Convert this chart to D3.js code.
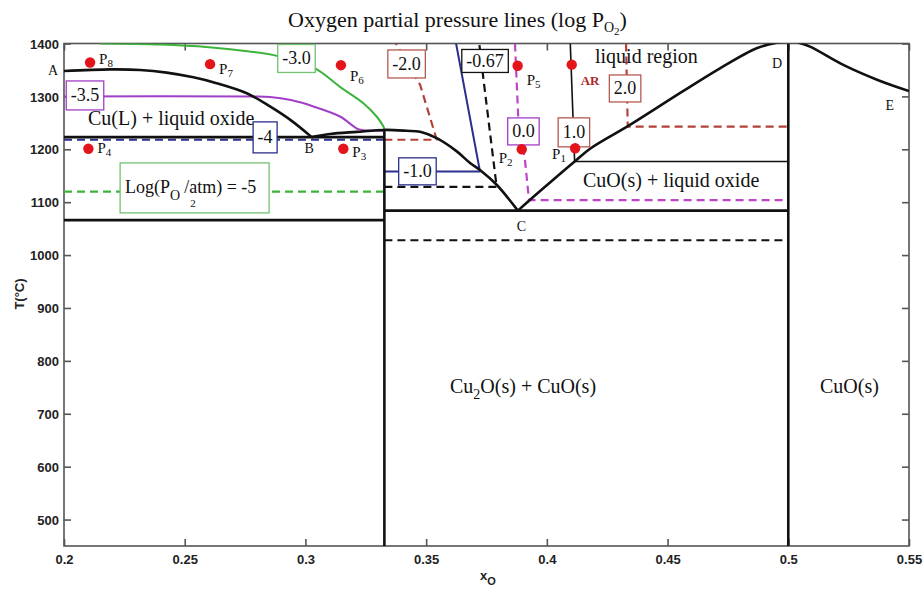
<!DOCTYPE html>
<html><head><meta charset="utf-8">
<script src="https://cdn.jsdelivr.net/npm/d3@7"></script>
<style>body{margin:0;background:#fff}svg{display:block}</style>
</head><body><svg id="c" width="923" height="590"></svg>
<script>
// ---------- DATA ----------
const xTicks = [0.2,0.25,0.3,0.35,0.4,0.45,0.5,0.55];
const xTickLabels = ["0.2","0.25","0.3","0.35","0.4","0.45","0.5","0.55"];
const yTicks = [500,600,700,800,900,1000,1100,1200,1300,1400];
const yTickLabels = ["500","600","700","800","900","1000","1100","1200","1300","1400"];

// phase boundaries [x_O, T]
const liquidusAB = [[0.2,1348],[0.2191,1351],[0.2315,1350],[0.2425,1345],[0.2536,1336],[0.2632,1325],[0.2757,1306],[0.2853,1281],[0.2936,1256],[0.3026,1223]];
const liquidusBC = [[0.3026,1223],[0.3102,1229],[0.3212,1233],[0.3327,1236.6],[0.3419,1235],[0.3475,1233],[0.3544,1221],[0.3627,1196],[0.3682,1174],[0.3723,1161],[0.3792,1133],[0.388,1084]];
const liquidusCD = [[0.388,1084],[0.3972,1121],[0.4115,1177],[0.4179,1201],[0.4344,1246],[0.4551,1306],[0.4717,1353],[0.4869,1391],[0.4952,1401.5],[0.498,1403]];
const liquidusDE = [[0.5035,1403],[0.509,1394],[0.523,1359],[0.537,1331],[0.55,1310]];
const verticalCu2O = [[0.3327,450],[0.3327,1236.6]];
const verticalCuO = [[0.5,450],[0.5,1400]];
const monotecticLine = [[0.2,1223],[0.3327,1223]];
const eutecticCuLine = [[0.2,1066],[0.3327,1066]];
const eutecticOxLine = [[0.3327,1084],[0.5,1084]];
const cuoLiquidLine = [[0.4115,1177],[0.5,1177]];
const dashed1028 = [[0.3327,1028],[0.5,1028]];

// oxygen partial pressure lines (log pO2)
const iso_m5 = [[0.2,1120],[0.3327,1120]];
const iso_m4 = [[0.2,1218],[0.3327,1218]];
const iso_m35 = [[0.2,1300],[0.278,1300],[0.2853,1299],[0.294,1293],[0.3033,1281],[0.3143,1262],[0.3219,1238],[0.326,1235.5],[0.3327,1235]];
const iso_m3 = [[0.2149,1400],[0.24,1398],[0.26,1393],[0.275,1386],[0.2888,1376],[0.304,1353],[0.3143,1318],[0.324,1287],[0.3295,1262],[0.3323,1243],[0.3327,1237]];
const iso_m2 = [[0.3327,1218],[0.3544,1218],[0.3475,1322],[0.3375,1400]];
const iso_m1 = [[0.3327,1158],[0.3723,1158],[0.3624,1400]];
const iso_m067 = [[0.3327,1129],[0.3792,1129],[0.3737,1334],[0.372,1400]];
const iso_0 = [[0.3868,1400],[0.3882,1255],[0.391,1177],[0.3926,1104],[0.5,1104]];
const iso_1 = [[0.4097,1400],[0.4115,1177]];
const iso_2 = [[0.4328,1400],[0.4335,1243],[0.5,1243]];

const isoLabels = ["-3.0","-3.5","-4","-2.0","-1.0","-0.67","0.0","1.0","2.0"];
const isoLabelX = [0.2963,0.2087,0.2833,0.3419,0.3464,0.3744,0.3903,0.4112,0.4324];
const isoLabelT = [1371.7,1301.8,1222.5,1361.3,1158.3,1367,1233.8,1232,1315];

const pointNames = ["1","2","3","4","5","6","7","8"];
const pointX = [0.4117,0.3896,0.3157,0.2101,0.3879,0.3147,0.2605,0.2108];
const pointT = [1202,1200,1201,1201,1358,1359,1361,1364];
const arPoint = [0.4103,1360];

const cornerLabels = ["A","B","C","D","E"];
const cornerX = [0.1955,0.3015,0.3895,0.4953,0.542];
const cornerT = [1340,1193,1046,1354,1274];

// ---------- LAYOUT / STYLE ----------
const W = 923, H = 590;
const L = 64, R = 909, T0 = 43.5, B = 546;
const x = d3.scaleLinear().domain([0.2,0.55]).range([L,R]);
const y = d3.scaleLinear().domain([450,1400]).range([B,T0]);
const SERIF = "'Liberation Serif','Times New Roman',serif";
const SANS = "'Liberation Sans',Arial,Helvetica,sans-serif";
const C = {
  green:"#3cb43c", greenBox:"#72c272", purple:"#a23fc8", magenta:"#c044c8",
  navy:"#2b2f8e", red:"#b3413a", redBox:"#b65a50", black:"#111", dot:"#e3151a", ar:"#b0282a"
};

const svg = d3.select("#c");
svg.append("rect").attr("width",W).attr("height",H).attr("fill","#fff");
svg.append("defs").append("clipPath").attr("id","clip")
  .append("rect").attr("x",L).attr("y",T0).attr("width",R-L).attr("height",B-T0);

// axes
const axColor = "#555";
function styleAxis(g){
  g.select(".domain").remove();
  g.selectAll(".tick line").attr("stroke",axColor).attr("stroke-width",1.6);
  g.selectAll(".tick text").attr("fill","#222").style("font-family",SANS)
   .style("font-size","13px").style("font-weight","bold");
}
const gL = svg.append("g").attr("transform",`translate(${L},0)`)
  .call(d3.axisLeft(y).tickValues(yTicks).tickSizeInner(-7).tickSizeOuter(0).tickPadding(5)
  .tickFormat((d,i)=>yTickLabels[i]));
styleAxis(gL);
gL.selectAll(".tick text").attr("dy","0.36em");
const gB = svg.append("g").attr("transform",`translate(0,${B})`)
  .call(d3.axisBottom(x).tickValues(xTicks).tickSizeInner(-7).tickSizeOuter(0).tickPadding(9)
  .tickFormat((d,i)=>xTickLabels[i]));
styleAxis(gB);
const gT = svg.append("g").attr("transform",`translate(0,${T0})`)
  .call(d3.axisTop(x).tickValues(xTicks).tickSizeInner(-7).tickSizeOuter(0).tickFormat(""));
styleAxis(gT);
const gR = svg.append("g").attr("transform",`translate(${R},0)`)
  .call(d3.axisRight(y).tickValues(yTicks).tickSizeInner(-7).tickSizeOuter(0).tickFormat(""));
styleAxis(gR);
svg.append("rect").attr("x",L).attr("y",T0).attr("width",R-L).attr("height",B-T0)
  .attr("fill","none").attr("stroke",axColor).attr("stroke-width",1.6);

// axis titles
svg.append("text").attr("transform","translate(24,294) rotate(-90)").attr("text-anchor","middle")
  .style("font-family",SANS).style("font-size","13px").style("font-weight","bold").attr("fill","#222").text("T(°C)");
const xl = svg.append("text").attr("x",480).attr("y",580).style("font-family",SANS)
  .style("font-size","13px").style("font-weight","bold").attr("fill","#222");
xl.append("tspan").text("x");
xl.append("tspan").attr("dy",5).style("font-size","11px").text("O");

// title
const tt = svg.append("text").attr("x",288).attr("y",27).style("font-family",SERIF)
  .style("font-size","22px").attr("fill","#111");
tt.append("tspan").text("Oxygen partial pressure lines (log P");
tt.append("tspan").attr("dy",5).style("font-size","14px").text("O");
tt.append("tspan").attr("dy",3).style("font-size","11px").text("2");
tt.append("tspan").attr("dy",-8).text(")");

// lines
const plot = svg.append("g").attr("clip-path","url(#clip)");
const lin = d3.line().x(d=>x(d[0])).y(d=>y(d[1]));
const crv = d3.line().x(d=>x(d[0])).y(d=>y(d[1])).curve(d3.curveCatmullRom.alpha(0.5));
function draw(data, gen, color, w, dash){
  plot.append("path").attr("d",gen(data)).attr("fill","none").attr("stroke",color)
    .attr("stroke-width",w).attr("stroke-dasharray",dash||null).attr("stroke-linejoin","round");
}
// isobars
draw(iso_m5, lin, C.green, 2.2, "8,5");
draw(iso_m4, lin, C.navy, 2.2, "8,5");
draw(iso_m35, crv, C.purple, 2, null);
draw(iso_m3, crv, C.green, 2, null);
draw(iso_m2, lin, C.red, 2.2, "8,5");
draw(iso_m1, lin, C.navy, 2, null);
draw(iso_m067, lin, "#111", 2.2, "8,5");
draw(iso_0, lin, C.magenta, 2.2, "8,5");
draw(iso_1, lin, "#111", 1.6, null);
draw(iso_2, lin, C.red, 2.2, "8,5");
// phase boundaries
draw(dashed1028, lin, "#111", 2.2, "8,5");
draw(cuoLiquidLine, lin, "#111", 1.6, null);
[eutecticCuLine, monotecticLine, eutecticOxLine, verticalCu2O, verticalCuO].forEach(d=>draw(d, lin, "#111", 2.6, null));
[liquidusAB, liquidusBC, liquidusCD, liquidusDE].forEach(d=>draw(d, crv, "#111", 2.6, null));

// iso label boxes
const boxColor = ["greenBox","purple","navy","redBox","navy","black","purple","redBox","redBox"];
const boxH = [28,29,31,28,27,23,27,29,27];
isoLabels.forEach((s,i)=>{
  const cx = x(isoLabelX[i]), cy = y(isoLabelT[i]);
  const g = svg.append("g");
  const r = g.append("rect");
  const t = g.append("text").attr("x",cx).attr("y",cy+6).attr("text-anchor","middle")
    .style("font-family",SERIF).style("font-size","18px").attr("fill","#111").text(s);
  const w = t.node().getComputedTextLength() + 9;
  r.attr("x",cx-w/2).attr("y",cy-boxH[i]/2).attr("width",w).attr("height",boxH[i])
    .attr("fill","#fff").attr("stroke",C[boxColor[i]]).attr("stroke-width",1.3);
});
// Log(pO2/atm) = -5 box
(function(){
  const cx = x(0.2541), cy = y(1127);
  const g = svg.append("g");
  g.append("rect").attr("x",cx-74.5).attr("y",cy-25).attr("width",149).attr("height",50)
    .attr("fill","#fff").attr("stroke",C.greenBox).attr("stroke-width",1.3);
  const t = g.append("text").attr("x",cx-69.5).attr("y",cy+5).style("font-family",SERIF)
    .style("font-size","18px").attr("fill","#111");
  t.append("tspan").text("Log(P");
  t.append("tspan").attr("dy",7).style("font-size","14px").text("O");
  t.append("tspan").attr("dy",-7).attr("dx",4).text("/atm) = -5");
  const ax = t.node().getStartPositionOfChar(7).x;
  g.append("text").attr("x",ax+1).attr("y",cy+19).style("font-family",SERIF)
    .style("font-size","11px").attr("fill","#111").text("2");
})();

// points
const labOff = [[-23,11],[-23,14],[9,8],[9,4],[9,19],[9,16],[9,10],[9,1]];
pointNames.forEach((n,i)=>{
  const cx = x(pointX[i]), cy = y(pointT[i]);
  svg.append("circle").attr("cx",cx).attr("cy",cy).attr("r",5.2).attr("fill",C.dot);
  const t = svg.append("text").attr("x",cx+labOff[i][0]).attr("y",cy+labOff[i][1])
    .style("font-family",SERIF).style("font-size","15px").attr("fill","#111");
  t.append("tspan").text("P");
  t.append("tspan").attr("dy",3).style("font-size","11px").text(n);
});
svg.append("circle").attr("cx",x(arPoint[0])).attr("cy",y(arPoint[1])).attr("r",5.2).attr("fill",C.dot);
svg.append("text").attr("x",x(arPoint[0])+9).attr("y",y(arPoint[1])+20)
  .style("font-family",SERIF).style("font-size","13px").style("font-weight","bold").attr("fill",C.ar).text("AR");

// corner labels
cornerLabels.forEach((s,i)=>{
  svg.append("text").attr("x",x(cornerX[i])).attr("y",y(cornerT[i])).attr("text-anchor","middle")
    .style("font-family",SERIF).style("font-size","14px").attr("fill","#111").text(s);
});

// region labels
function region(px, py, parts){
  const t = svg.append("text").attr("x",px).attr("y",py).style("font-family",SERIF)
    .style("font-size","20px").attr("fill","#111");
  parts.forEach(p=>{ const s=t.append("tspan").text(p[0]); if(p[1]) s.attr("dy",p[1]); if(p[2]) s.style("font-size",p[2]); });
}
region(88,125,[["Cu(L) + liquid oxide"]]);
region(595,63,[["liquid region"]]);
region(583,187,[["CuO(s) + liquid oxide"]]);
region(450,393,[["Cu"],["2",6,"14px"],["O(s) + CuO(s)",-6]]);
region(820,393,[["CuO(s)"]]);
</script></body></html>
